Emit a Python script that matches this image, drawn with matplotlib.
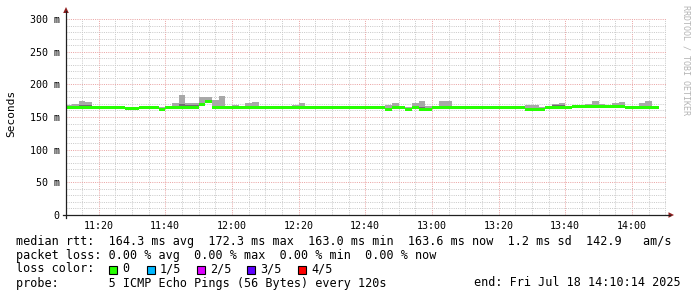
import matplotlib
matplotlib.use("Agg")
import matplotlib.pyplot as plt
import numpy as np
from matplotlib.patches import Polygon, Rectangle
from matplotlib.lines import Line2D

# samples every 2 min, minutes after 11:00 (first step starts 11:10)
STEP_MIN = 2
FIRST_MIN = 10
WINDOW = (10.233, 190.233)

# median rtt per step (ms)
median_ms = [
    164.5, 164.5, 164.5, 164.5, 164.5, 164.5, 164.5, 164.5, 164.5, 162.5,
    162.5, 164.5, 164.5, 164.5, 162.0, 164.5, 164.5, 164.5, 164.5, 164.5,
    169.0, 173.0, 164.5, 164.5, 164.5, 164.5, 164.5, 164.5, 164.5, 164.0,
    164.0, 164.0, 164.0, 164.0, 164.0, 164.0, 164.0, 164.0, 164.0, 164.0,
    164.0, 164.0, 164.0, 164.0, 164.0, 164.0, 164.0, 164.0, 162.0, 164.0,
    164.0, 162.0, 164.0, 162.0, 162.0, 164.0, 164.0, 164.0, 164.0, 164.0,
    164.0, 164.0, 164.0, 164.0, 164.0, 164.0, 164.0, 164.0, 164.0, 162.0,
    162.0, 162.0, 164.0, 164.0, 164.0, 164.0, 165.5, 165.5, 165.5, 165.5,
    165.5, 165.5, 165.5, 165.5, 165.0, 164.5, 164.5, 164.5, 164.5,
]
# highest ping per step (ms)
max_ms = [
    168.0, 170.0, 175.0, 173.0, 165.0, 165.0, 167.0, 165.0, 165.0, 164.0,
    164.0, 165.0, 165.0, 165.0, 165.0, 165.0, 172.0, 184.0, 172.0, 172.0,
    180.0, 180.0, 176.0, 182.0, 165.0, 168.0, 166.0, 171.5, 173.0, 165.0,
    165.0, 165.0, 165.0, 165.0, 168.0, 171.5, 165.0, 165.0, 165.0, 165.0,
    167.0, 165.0, 165.0, 165.0, 165.0, 165.0, 165.0, 165.0, 169.0, 171.5,
    165.0, 165.0, 171.5, 174.5, 167.0, 167.0, 174.5, 174.5, 165.0, 165.0,
    165.0, 165.0, 165.0, 165.0, 165.0, 165.0, 165.0, 165.0, 167.0, 168.0,
    168.0, 165.0, 166.0, 170.0, 171.5, 167.0, 167.0, 167.0, 170.0, 174.5,
    170.0, 167.0, 171.5, 173.0, 167.0, 165.0, 171.5, 174.5, 167.0,
]
# inner smoke (2nd..4th ping) top per step (ms)
inner_ms = [
    163.0, 163.0, 168.5, 168.5, 163.0, 163.0, 163.0, 163.0, 163.0, 163.0,
    163.0, 163.0, 163.0, 163.0, 163.0, 163.0, 166.0, 170.0, 168.5, 168.5,
    168.0, 168.0, 166.0, 166.0, 163.0, 163.0, 163.0, 166.0, 166.0, 163.0,
    163.0, 163.0, 163.0, 163.0, 163.0, 166.0, 163.0, 163.0, 163.0, 163.0,
    163.0, 163.0, 163.0, 163.0, 163.0, 163.0, 163.0, 163.0, 163.0, 166.0,
    163.0, 163.0, 166.0, 166.0, 163.0, 163.0, 166.0, 166.0, 163.0, 163.0,
    163.0, 163.0, 163.0, 163.0, 163.0, 163.0, 163.0, 163.0, 163.0, 163.0,
    163.0, 163.0, 163.0, 168.5, 168.5, 163.0, 163.0, 163.0, 166.0, 166.0,
    166.0, 163.0, 166.0, 166.0, 163.0, 163.0, 166.0, 166.0, 163.0,
]

x_tick_pos = [20, 40, 60, 80, 100, 120, 140, 160, 180]
x_tick_labels = ["11:20", "11:40", "12:00", "12:20", "12:40", "13:00", "13:20", "13:40", "14:00"]
y_tick_pos = [0, 50, 100, 150, 200, 250, 300]
y_tick_labels = ["0", "50 m", "100 m", "150 m", "200 m", "250 m", "300 m"]

legend_rtt = "median rtt:  164.3 ms avg  172.3 ms max  163.0 ms min  163.6 ms now  1.2 ms sd  142.9   am/s"
legend_loss = "packet loss: 0.00 % avg  0.00 % max  0.00 % min  0.00 % now"
legend_probe = "probe:       5 ICMP Echo Pings (56 Bytes) every 120s"
legend_end = "end: Fri Jul 18 14:10:14 2025"
loss_labels = ["0", "1/5", "2/5", "3/5", "4/5"]
loss_colors = ["#26ff00", "#00b8ff", "#dd00ff", "#5e00ff", "#ff0000"]

MONO = "DejaVu Sans Mono"
W, H = 697, 297


def fx(x):
    return x / W


def fy(y):
    return 1 - y / H


fig = plt.figure(figsize=(W / 100, H / 100), dpi=100, facecolor="white")
ax = fig.add_axes([fx(66), fy(215), (666 - 66) / W, (215 - 19) / H])
ax.set_facecolor("white")

n = len(median_ms)
edges = FIRST_MIN + STEP_MIN * np.arange(n + 1)
med = np.array(median_ms)
top = np.array(max_ms)
inner = np.array(inner_ms)
low = med - 1.5


def step(v):
    return np.append(v, v[-1])


ax.fill_between(edges, step(low), step(top), step="post", color="#a8a8a8", lw=0,
                zorder=2, antialiased=False)
ax.fill_between(edges, step(low), step(np.maximum(inner, low)), step="post",
                color="#6e6e6e", lw=0, zorder=3, antialiased=False)
band = 2.3
ax.fill_between(edges, step(med - band), step(med + band), step="post",
                color=loss_colors[0], lw=0, zorder=4, antialiased=False)

ax.set_xlim(*WINDOW)
ax.set_ylim(0, 300)
ax.set_xticks(x_tick_pos)
ax.set_xticklabels(x_tick_labels)
ax.set_xticks(np.arange(15, 191, 5), minor=True)
ax.set_yticks(y_tick_pos)
ax.set_yticklabels(y_tick_labels)
ax.set_yticks(np.arange(10, 300, 10), minor=True)
ax.tick_params(which="both", length=0)
ax.tick_params(axis="x", pad=4.5, labelsize=7.2)
ax.tick_params(axis="y", pad=4.5, labelsize=7.2)
for lab in ax.get_xticklabels() + ax.get_yticklabels():
    lab.set_family(MONO)

ax.grid(which="minor", color="#cacaca", lw=0.72, ls=(0, (1, 1.2)), zorder=1)
ax.grid(which="major", color="#eaa4a4", lw=0.72, ls=(0, (1, 1.2)), zorder=1)
for s in ax.spines.values():
    s.set_visible(False)

# axes with arrows
fig.add_artist(Line2D([fx(66), fx(66)], [fy(218), fy(11)], color="#202020", lw=0.9))
fig.add_artist(Line2D([fx(63), fx(670)], [fy(215), fy(215)], color="#202020", lw=0.9))
fig.add_artist(Polygon([(fx(66), fy(7)), (fx(63.2), fy(13)), (fx(68.8), fy(13))],
                       closed=True, color="#8f1f1f", lw=0))
fig.add_artist(Polygon([(fx(674), fy(215)), (fx(668.5), fy(212.2)), (fx(668.5), fy(217.8))],
                       closed=True, color="#8f1f1f", lw=0))

fig.text(fx(11), fy(113), "Seconds", rotation=90, ha="center", va="center",
         family=MONO, fontsize=8)
fig.text(fx(686), fy(60), "RRDTOOL / TOBI OETIKER", rotation=270, ha="center",
         va="center", family=MONO, fontsize=6, color="#b4b4b4")

fs = 8.5
fig.text(fx(16), fy(241), legend_rtt, va="center", family=MONO, fontsize=fs)
fig.text(fx(16), fy(255), legend_loss, va="center", family=MONO, fontsize=fs)
fig.text(fx(16), fy(269), "loss color:", va="center", family=MONO, fontsize=fs)
fig.text(fx(16), fy(283), legend_probe, va="center", family=MONO, fontsize=fs)
fig.text(fx(681), fy(283), legend_end, va="center", ha="right", family=MONO, fontsize=fs)

box_x = [109, 147, 197, 247, 298]
for bx, lab, col in zip(box_x, loss_labels, loss_colors):
    fig.add_artist(Rectangle((fx(bx), fy(273.5)), 8 / W, 8 / H, facecolor=col,
                             edgecolor="black", lw=0.8))
    fig.text(fx(bx + 13), fy(269), lab, va="center", family=MONO, fontsize=fs)

fig.savefig("out.png", dpi=100, facecolor="white")
